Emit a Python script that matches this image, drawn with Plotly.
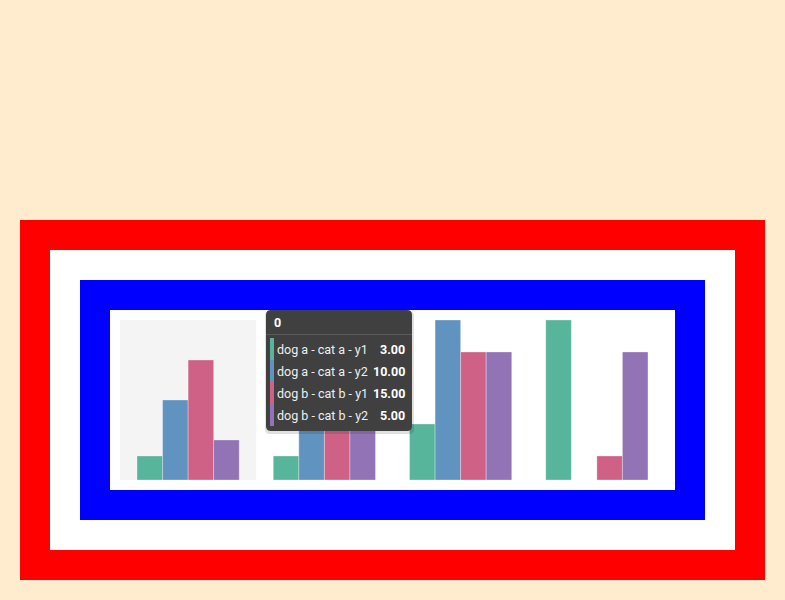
import plotly.graph_objects as go

categories = ["0", "1", "2", "3"]
series_names = ["dog a - cat a - y1", "dog a - cat a - y2", "dog b - cat b - y1", "dog b - cat b - y2"]
dog_a_cat_a_y1 = [3, 3, 7, 20]
dog_a_cat_a_y2 = [10, 10, 20, 0]
dog_b_cat_b_y1 = [15, 12, 16, 3]
dog_b_cat_b_y2 = [5, 8, 16, 16]
colors = ["#56B59B", "#6193C0", "#D06186", "#9273B6"]
series_values = [dog_a_cat_a_y1, dog_a_cat_a_y2, dog_b_cat_b_y1, dog_b_cat_b_y2]
hover_index = 0

W, H = 785, 600
L, R, T, B = 120, 120, 320, 120
PW = W - L - R
PH = H - T - B


def px(x):
    return (x - L) / PW


def py(y):
    return (H - B - y) / PH


fig = go.Figure()
for name, vals, col in zip(series_names, series_values, colors):
    fig.add_trace(go.Bar(
        x=list(range(len(categories))), y=vals, name=name,
        marker=dict(color=col, line=dict(color="rgba(255,255,255,0.5)", width=0.6)),
        hoverinfo="skip",
    ))

shapes = []


def rect(x0, y0, x1, y1, color, layer="below"):
    shapes.append(dict(type="rect", xref="paper", yref="paper",
                       x0=px(x0), x1=px(x1), y0=py(y1), y1=py(y0),
                       fillcolor=color, line=dict(width=0), layer=layer))


rect(20, 220, 765, 580, "#FF0000")
rect(50, 250, 735, 550, "#FFFFFF")
rect(80, 280, 705, 520, "#0000FF")
rect(110, 310, 675, 490, "#FFFFFF")
# hover highlight band
shapes.append(dict(type="rect", xref="x", yref="paper", x0=hover_index - 0.5, x1=hover_index + 0.5,
                   y0=0, y1=1, fillcolor="#F4F4F4", line=dict(width=0), layer="below"))


def rounded(x0, y0, x1, y1, r, color, layer="above"):
    path = (f"M {px(x0 + r)} {py(y0)} L {px(x1 - r)} {py(y0)} Q {px(x1)} {py(y0)} {px(x1)} {py(y0 + r)} "
            f"L {px(x1)} {py(y1 - r)} Q {px(x1)} {py(y1)} {px(x1 - r)} {py(y1)} "
            f"L {px(x0 + r)} {py(y1)} Q {px(x0)} {py(y1)} {px(x0)} {py(y1 - r)} "
            f"L {px(x0)} {py(y0 + r)} Q {px(x0)} {py(y0)} {px(x0 + r)} {py(y0)} Z")
    shapes.append(dict(type="path", xref="paper", yref="paper", path=path,
                       fillcolor=color, line=dict(width=0), layer=layer))


# tooltip
tx0, ty0, tx1, ty1 = 266, 310, 412, 431
rounded(tx0 - 1, ty0 + 1, tx1 + 2, ty1 + 3, 5, "rgba(0,0,0,0.12)")
rounded(tx0, ty0, tx1, ty1, 5, "#404040")
shapes.append(dict(type="line", xref="paper", yref="paper", x0=px(tx0), x1=px(tx1),
                   y0=py(334.5), y1=py(334.5), line=dict(color="#5A5A5A", width=1), layer="above"))

annotations = [dict(xref="paper", yref="paper", x=px(272), y=py(322), xanchor="left", yanchor="middle",
                    text="<b>" + categories[hover_index] + "</b>", showarrow=False,
                    font=dict(family="Roboto", size=12.5, color="#FFFFFF"))]
row_y = [349, 371, 393, 415]
for i, (name, vals, col) in enumerate(zip(series_names, series_values, colors)):
    yc = row_y[i]
    rect(270, yc - 11, 274, yc + 11, col, layer="above")
    annotations.append(dict(xref="paper", yref="paper", x=px(275.3), y=py(yc), xanchor="left", yanchor="middle",
                            text=name, showarrow=False,
                            font=dict(family="Roboto", size=12.5, color="#EEEEEE")))
    annotations.append(dict(xref="paper", yref="paper", x=px(407), y=py(yc), xanchor="right", yanchor="middle",
                            text="<b>%.2f</b>" % vals[hover_index], showarrow=False,
                            font=dict(family="Roboto", size=12.5, color="#FFFFFF")))

fig.update_layout(
    width=W, height=H,
    margin=dict(l=L, r=R, t=T, b=B, pad=0),
    paper_bgcolor="#FFEBCD", plot_bgcolor="#FFFFFF",
    barmode="group", bargap=0.25, bargroupgap=0,
    showlegend=False,
    xaxis=dict(range=[-0.5, 3.5], visible=False, fixedrange=True),
    yaxis=dict(range=[0, 20], visible=False, fixedrange=True),
    shapes=shapes, annotations=annotations,
)

fig.write_html("out.html")
